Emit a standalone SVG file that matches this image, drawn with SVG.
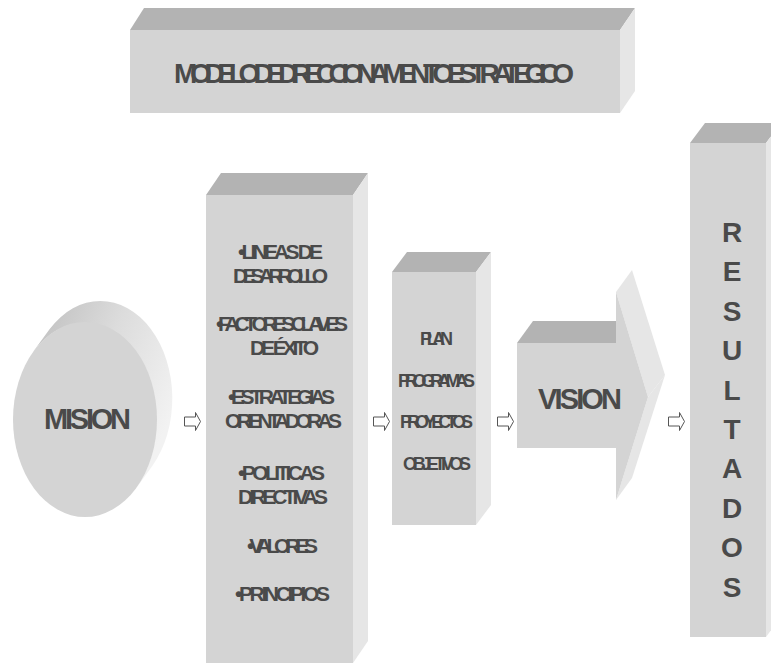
<svg xmlns="http://www.w3.org/2000/svg" width="771" height="665" viewBox="0 0 771 665">
<style>
.front{fill:#d4d4d4}
.top{fill:#b3b3b3}
.side{fill:#e6e6e6}
.t{font-family:"Liberation Sans",Arial,sans-serif;fill:#4a4a4a;font-weight:bold}
.arr{fill:#ffffff;stroke:#555555;stroke-width:1}
</style>
<defs>
<linearGradient id="disc" x1="0" y1="0" x2="1" y2="0.6">
<stop offset="0" stop-color="#bdbdbd"/>
<stop offset="0.5" stop-color="#dcdcdc"/>
<stop offset="1" stop-color="#f2f2f2"/>
</linearGradient>
<path id="a" d="M0,-4.5 H11 V-9 L16,0 L11,9 V4.5 H0 Z"/>
</defs>
<rect width="771" height="665" fill="#ffffff"/>

<g id="title">
<polygon class="top" points="130,30 144,8 635,8 620,30"/>
<polygon class="side" points="620,30 635,8 635,91 620,113"/>
<rect class="front" x="130" y="30" width="490" height="83"/>
<text class="t" x="174" y="83" font-size="28" textLength="400" lengthAdjust="spacing">MODELO DE DIRECCIONAMIENTO ESTRATEGICO</text>
</g>

<g id="mision">
<path d="M33.7,351.1 A72,97.5 0 0 1 136.3,487.9 L152.3,465.9 A72,97.5 0 0 0 49.7,329.1 Z" fill="url(#disc)"/>
<ellipse class="front" cx="85" cy="419.5" rx="72" ry="97.5"/>
<text class="t" x="44" y="429" font-size="29" textLength="87" lengthAdjust="spacing">MISION</text>
</g>

<g id="lineas">
<polygon class="top" points="206,195 221,173 368,173 353,195"/>
<polygon class="side" points="353,195 368,173 368,641 353,663"/>
<rect class="front" x="206" y="195" width="147" height="468"/>
<g class="t" font-size="21">
<text x="238" y="259" textLength="85" lengthAdjust="spacing">•LINEAS DE</text>
<text x="233" y="283" textLength="95" lengthAdjust="spacing">DESARROLLO</text>
<text x="216" y="331" textLength="132" lengthAdjust="spacing">•FACTORES CLAVES</text>
<text x="250" y="355" textLength="69" lengthAdjust="spacing">DE ÉXITO</text>
<text x="228" y="404" textLength="107" lengthAdjust="spacing">•ESTRATEGIAS</text>
<text x="225" y="428" textLength="117" lengthAdjust="spacing">ORIENTADORAS</text>
<text x="238" y="480" textLength="87" lengthAdjust="spacing">•POLITICAS</text>
<text x="238" y="504" textLength="90" lengthAdjust="spacing">DIRECTIVAS</text>
<text x="247" y="553" textLength="71" lengthAdjust="spacing">•VALORES</text>
<text x="235" y="601" textLength="95" lengthAdjust="spacing">•PRINCIPIOS</text>
</g>
</g>

<g id="plan">
<polygon class="top" points="392,272 407,252 491,252 476,272"/>
<polygon class="side" points="476,272 491,252 491,505 476,525"/>
<rect class="front" x="392" y="272" width="84" height="253"/>
<g class="t" font-size="18">
<text x="420" y="345" textLength="33" lengthAdjust="spacing">PLAN</text>
<text x="398" y="387" textLength="77" lengthAdjust="spacing">PROGRAMAS</text>
<text x="400" y="428" textLength="73" lengthAdjust="spacing">PROYECTOS</text>
<text x="403" y="470" textLength="68" lengthAdjust="spacing">OBJETIVOS</text>
</g>
</g>

<g id="vision">
<polygon class="top" points="517,343 533,321 617,321 617,343"/>
<rect class="front" x="517" y="343" width="100" height="105"/>
<polygon class="side" points="616,292 632,270 665,375 648,397"/>
<polygon class="side" points="648,397 665,375 632,478 616,500"/>
<polygon class="front" points="616,292 648,397 616,500"/>
<text class="t" x="538" y="409" font-size="29" textLength="84" lengthAdjust="spacing">VISION</text>
</g>

<g id="resultados">
<polygon class="top" points="690,143 705,123 781,123 766,143"/>
<polygon class="side" points="766,143 781,123 781,617 766,637"/>
<rect class="front" x="690" y="143" width="76" height="494"/>
<g class="t" font-size="28" text-anchor="middle">
<text x="732" y="242">R</text>
<text x="732" y="281.4">E</text>
<text x="732" y="320.8">S</text>
<text x="732" y="360.2">U</text>
<text x="732" y="399.6">L</text>
<text x="732" y="439">T</text>
<text x="732" y="478.4">A</text>
<text x="732" y="517.8">D</text>
<text x="732" y="557.2">O</text>
<text x="732" y="596.6">S</text>
</g>
</g>

<g id="connectors">
<use href="#a" class="arr" transform="translate(184.5,421.5)"/>
<use href="#a" class="arr" transform="translate(373.5,421.5)"/>
<use href="#a" class="arr" transform="translate(497.5,421.5)"/>
<use href="#a" class="arr" transform="translate(668.5,421.5)"/>
</g>
</svg>
